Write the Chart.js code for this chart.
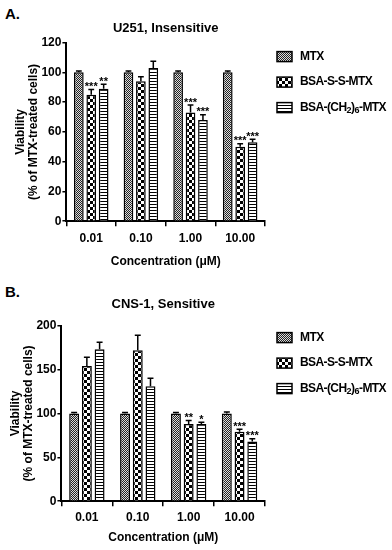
<!DOCTYPE html>
<html>
<head>
<meta charset="utf-8">
<script src="https://cdn.jsdelivr.net/npm/chart.js@4.4.1/dist/chart.umd.min.js"></script>
<style>
  body { margin: 0; background: #fff; }
  #wrap { position: relative; width: 392px; height: 550px; }
  canvas { position: absolute; left: 0; }
  .panel { position: absolute; left: 5px; font: bold 15px "Liberation Sans", Arial, sans-serif; }
</style>
</head>
<body>
<div id="wrap">
  <div class="panel" style="top:5px">A.</div>
  <canvas id="chartA" width="392" height="275" style="top:0"></canvas>
  <div class="panel" style="top:283px">B.</div>
  <canvas id="chartB" width="392" height="275" style="top:275px"></canvas>
</div>
<script>
const categories = ['0.01', '0.10', '1.00', '10.00'];
const seriesNames = ['MTX', 'BSA-S-S-MTX', 'BSA-(CH₂)₆-MTX'];

// U251, insensitive
const mtxA = [100, 100, 100, 100];
const mtxAErr = [1, 1, 1, 1];
const ssA = [85, 94, 73, 50];
const ssAErr = [3.5, 3, 5, 2];
const chA = [89, 103, 68, 53];
const chAErr = [3, 4.5, 3.5, 2];
const ssASig = ['***', '', '***', '***'];
const chASig = ['**', '', '***', '***'];

// CNS-1, sensitive
const mtxB = [100, 100, 100, 100];
const mtxBErr = [1, 1, 1, 1.5];
const ssB = [154, 172, 88, 79];
const ssBErr = [10, 17, 4, 3];
const chB = [173, 131, 88, 68];
const chBErr = [8, 9, 2, 3];
const ssBSig = ['', '', '**', '***'];
const chBSig = ['', '', '*', '***'];

const FONT = '"Liberation Sans Narrow", "Liberation Sans", Arial, sans-serif';
const SUBS = { '₂': '2', '₆': '6' };

function makePattern(kind) {
    const c = document.createElement('canvas');
    const g = c.getContext('2d');
    if (kind === 'fine') {
        c.width = 2; c.height = 2;
        g.fillStyle = '#dcdcdc'; g.fillRect(0, 0, 2, 2);
        g.fillStyle = '#222'; g.fillRect(0, 0, 1, 1); g.fillRect(1, 1, 1, 1);
    } else if (kind === 'checker') {
        c.width = 6; c.height = 6;
        g.fillStyle = '#000'; g.fillRect(0, 0, 6, 6);
        g.fillStyle = '#fff'; g.fillRect(0, 0, 3, 3); g.fillRect(3, 3, 3, 3);
    } else {
        c.width = 3; c.height = 3;
        g.fillStyle = '#fff'; g.fillRect(0, 0, 3, 3);
        g.fillStyle = '#000'; g.fillRect(0, 0, 3, 1);
    }
    return g.createPattern(c, 'repeat');
}
const fills = [makePattern('fine'), makePattern('checker'), makePattern('stripes')];

// label text, slightly tightened, with small lowered digits for subscripts
function drawLabel(ctx, text, x, y) {
    for (const ch of text) {
        if (SUBS[ch]) {
            ctx.font = 'bold 9px ' + FONT;
            ctx.fillText(SUBS[ch], x, y + 3);
            x += ctx.measureText(SUBS[ch]).width - 0.4;
        } else {
            ctx.font = 'bold 12px ' + FONT;
            ctx.fillText(ch, x, y);
            x += ctx.measureText(ch).width - 0.6;
        }
    }
}

// error bars, significance stars and the side legend
const extrasPlugin = {
    id: 'extras',
    afterDatasetsDraw(chart) {
        const ctx = chart.ctx;
        const y = chart.scales.y;
        ctx.save();
        chart.data.datasets.forEach((ds, i) => {
            const meta = chart.getDatasetMeta(i);
            meta.data.forEach((bar, j) => {
                const top = y.getPixelForValue(ds.data[j] + ds.errors[j]);
                const cap = bar.width * 0.3;
                ctx.strokeStyle = '#000';
                ctx.lineWidth = 1.5;
                ctx.beginPath();
                ctx.moveTo(bar.x, bar.y);
                ctx.lineTo(bar.x, top);
                ctx.moveTo(bar.x - cap, top);
                ctx.lineTo(bar.x + cap, top);
                ctx.stroke();
                if (ds.sig[j]) {
                    ctx.fillStyle = '#000';
                    ctx.font = 'bold 11px ' + FONT;
                    ctx.textAlign = 'center';
                    ctx.textBaseline = 'top';
                    ctx.fillText(ds.sig[j], bar.x, top - 8);
                }
            });
        });
        // legend
        const x0 = chart.chartArea.right + 12;
        const y0 = chart.chartArea.top + chart.options.plugins.extras.legendTop;
        ctx.textAlign = 'left';
        ctx.textBaseline = 'middle';
        chart.data.datasets.forEach((ds, i) => {
            const yy = y0 + i * 25.5;
            ctx.fillStyle = ds.backgroundColor;
            ctx.fillRect(x0, yy - 5, 15, 10);
            ctx.strokeStyle = '#000';
            ctx.lineWidth = 1.5;
            ctx.strokeRect(x0, yy - 5, 15, 10);
            ctx.fillStyle = '#000';
            drawLabel(ctx, ds.label, x0 + 23, yy);
        });
        ctx.restore();
    }
};

function buildChart(id, title, data, errs, sigs, yMax, yStep, legendTop, pad, titleGap) {
    return new Chart(document.getElementById(id), {
        type: 'bar',
        data: {
            labels: categories,
            datasets: data.map((d, i) => ({
                label: seriesNames[i],
                data: d,
                errors: errs[i],
                sig: sigs[i],
                backgroundColor: fills[i],
                borderColor: '#000',
                borderWidth: 1.5
            }))
        },
        options: {
            responsive: false,
            animation: false,
            categoryPercentage: 0.75,
            barPercentage: 0.78,
            layout: { padding: pad },
            plugins: {
                legend: { display: false },
                tooltip: { enabled: false },
                title: {
                    display: true,
                    text: title,
                    fullSize: false,
                    color: '#000',
                    font: { family: FONT, size: 13, weight: 'bold' },
                    padding: { top: 0, bottom: titleGap }
                },
                extras: { legendTop: legendTop }
            },
            scales: {
                x: {
                    grid: { drawOnChartArea: false, drawTicks: true, tickLength: 5, color: '#000', lineWidth: 1.5 },
                    border: { color: '#000', width: 2 },
                    ticks: { color: '#000', font: { family: FONT, size: 12, weight: 'bold' }, padding: pad.tickPad },
                    title: {
                        display: true,
                        text: 'Concentration (μM)',
                        color: '#000',
                        font: { family: FONT, size: 12, weight: 'bold' },
                        padding: { top: pad.titlePad, bottom: 0 }
                    }
                },
                y: {
                    min: 0,
                    max: yMax,
                    grid: { drawOnChartArea: false, drawTicks: true, tickLength: 4, color: '#000', lineWidth: 1.5 },
                    border: { color: '#000', width: 2 },
                    ticks: { stepSize: yStep, color: '#000', font: { family: FONT, size: 12, weight: 'bold' }, padding: 1 },
                    title: {
                        display: true,
                        text: ['Viability', '(% of MTX-treated cells)'],
                        color: '#000',
                        font: { family: FONT, size: 12, weight: 'bold', lineHeight: 1.1 },
                        padding: { top: 0, bottom: 0 }
                    }
                }
            }
        },
        plugins: [extrasPlugin]
    });
}

buildChart('chartA', 'U251, Insensitive',
    [mtxA, ssA, chA], [mtxAErr, ssAErr, chAErr], [[], ssASig, chASig],
    120, 20, 14, { top: 21, right: 127, bottom: 6, left: 14, tickPad: 5, titlePad: 4 }, 6);

buildChart('chartB', 'CNS-1, Sensitive',
    [mtxB, ssB, chB], [mtxBErr, ssBErr, chBErr], [[], ssBSig, chBSig],
    200, 50, 12, { top: 22, right: 127, bottom: 5, left: 9, tickPad: 4, titlePad: 2 }, 13);
</script>
</body>
</html>
